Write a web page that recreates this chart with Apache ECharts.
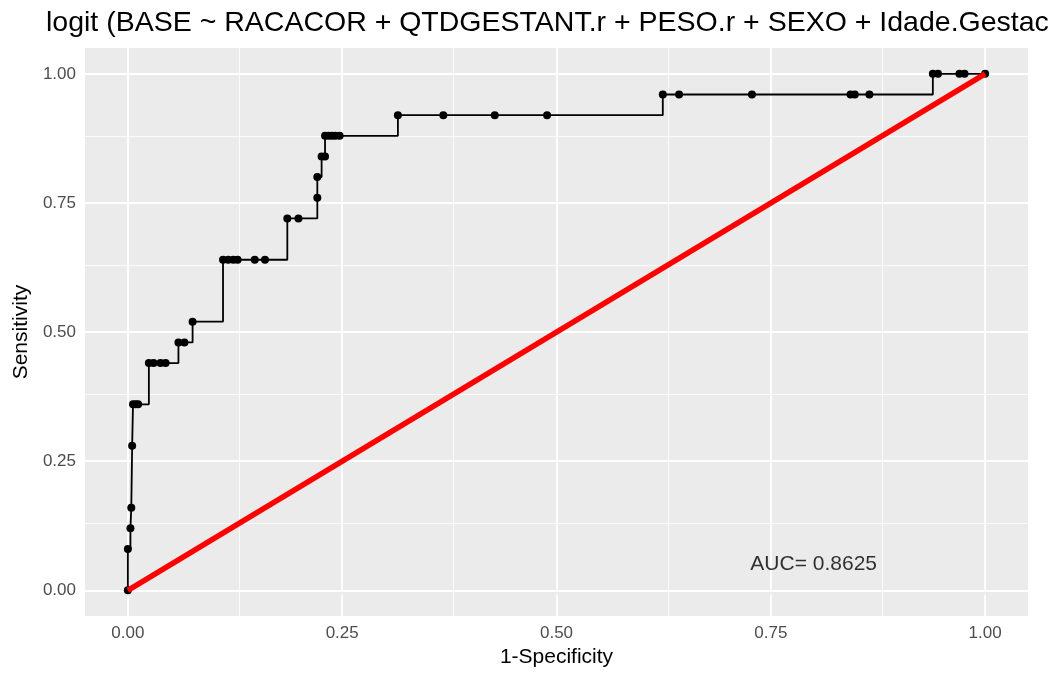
<!DOCTYPE html>
<html>
<head>
<meta charset="utf-8">
<script src="https://cdn.jsdelivr.net/npm/echarts@6/dist/echarts.min.js"></script>
<style>
  html, body { margin: 0; padding: 0; background: #fff; }
  #main { width: 1051px; height: 673px; }
</style>
</head>
<body>
<div id="main"></div>
<script>
// ROC curve points (1-specificity, sensitivity)
var fprValues = [0, 0, 0.003, 0.004, 0.005, 0.006, 0.009, 0.012,
  0.0245, 0.030, 0.038, 0.044, 0.059, 0.066, 0.0755,
  0.111, 0.117, 0.123, 0.128, 0.148, 0.160, 0.186, 0.199,
  0.221, 0.221, 0.226, 0.230, 0.230, 0.234, 0.238, 0.242, 0.247,
  0.315, 0.368, 0.428, 0.489, 0.624, 0.643, 0.728, 0.843, 0.848, 0.865,
  0.939, 0.945, 0.970, 0.976, 1.0];
var tprValues = [0, 0.08, 0.12, 0.16, 0.28, 0.36, 0.36, 0.36,
  0.44, 0.44, 0.44, 0.44, 0.48, 0.48, 0.52,
  0.64, 0.64, 0.64, 0.64, 0.64, 0.64, 0.72, 0.72,
  0.76, 0.80, 0.84, 0.84, 0.88, 0.88, 0.88, 0.88, 0.88,
  0.92, 0.92, 0.92, 0.92, 0.96, 0.96, 0.96, 0.96, 0.96, 0.96,
  1.0, 1.0, 1.0, 1.0, 1.0];

// chance diagonal
var diagX = [0, 1];
var diagY = [0, 1];

var majorTicks = [0, 0.25, 0.5, 0.75, 1];
var minorTicks = [0.125, 0.375, 0.625, 0.875];

var aucText = 'AUC= 0.8625';
var aucPos = [0.8, 0.05];

var titleText = 'logit (BASE ~ RACACOR + QTDGESTANT.r + PESO.r + SEXO + Idade.Gestac';

function zip(a, b) {
  var out = [];
  for (var i = 0; i < a.length; i++) out.push([a[i], b[i]]);
  return out;
}

function gridLines(key, vals, width) {
  return vals.map(function (v) {
    var d = {};
    d[key] = v;
    d.lineStyle = { color: '#ffffff', width: width, type: 'solid' };
    return d;
  });
}

var font = 'Liberation Sans, Arial, sans-serif';

var chart = echarts.init(document.getElementById('main'));

function axis(name, nameGap) {
  return {
    type: 'value',
    min: -0.05,
    max: 1.05,
    name: name,
    nameLocation: 'middle',
    nameGap: nameGap,
    nameTextStyle: { color: '#000', fontSize: 21, fontFamily: font },
    splitLine: { show: false },
    axisLine: { show: false },
    axisTick: {
      show: true, length: 5, customValues: majorTicks,
      lineStyle: { color: '#333', width: 1.5 }
    },
    axisLabel: {
      customValues: majorTicks,
      margin: 9,
      color: '#4d4d4d',
      fontSize: 17,
      fontFamily: font,
      formatter: function (v) { return v.toFixed(2); }
    }
  };
}

var option = {
  animation: false,
  backgroundColor: '#ffffff',
  title: {
    text: titleText,
    left: 41,
    top: 4,
    textStyle: { color: '#000', fontSize: 28.5, fontWeight: 'normal', fontFamily: font }
  },
  grid: {
    left: 85, right: 23, top: 48, bottom: 54,
    show: true, backgroundColor: '#ebebeb', borderWidth: 0
  },
  xAxis: axis('1-Specificity', 26),
  yAxis: axis('Sensitivity', 52),
  series: [
    {
      type: 'line',
      data: [],
      silent: true,
      markLine: {
        silent: true,
        symbol: ['none', 'none'],
        label: { show: false },
        z: 1,
        data: gridLines('xAxis', minorTicks, 0.8)
          .concat(gridLines('yAxis', minorTicks, 0.8))
          .concat(gridLines('xAxis', majorTicks, 1.8))
          .concat(gridLines('yAxis', majorTicks, 1.8))
      }
    },
    {
      type: 'line',
      step: 'end',
      data: zip(fprValues, tprValues),
      symbol: 'circle',
      symbolSize: 8,
      showSymbol: true,
      itemStyle: { color: '#000' },
      lineStyle: { color: '#000', width: 1.8 },
      z: 3
    },
    {
      type: 'line',
      data: zip(diagX, diagY),
      symbol: 'none',
      lineStyle: { color: '#ff0000', width: 5.5 },
      z: 4
    },
    {
      type: 'scatter',
      data: [aucPos],
      symbolSize: 0,
      label: {
        show: true,
        position: 'inside',
        formatter: aucText,
        color: '#000',
        fontSize: 21,
        fontFamily: font
      },
      z: 5
    }
  ]
};

chart.setOption(option);
</script>
</body>
</html>
